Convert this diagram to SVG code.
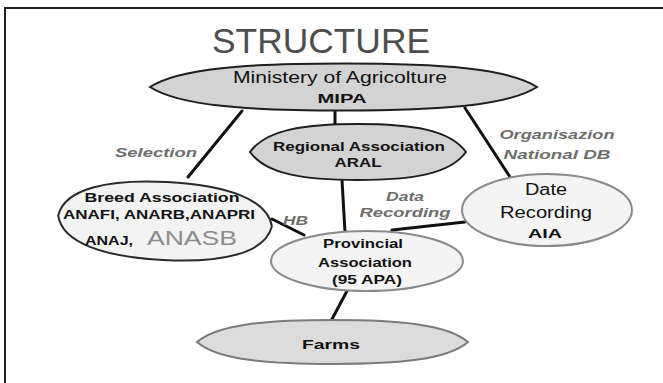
<svg xmlns="http://www.w3.org/2000/svg" width="663" height="383" viewBox="0 0 663 383">
  <style>
    text { font-family: "Liberation Sans", Arial, sans-serif; text-anchor: middle; }
    .frame { stroke: #222; stroke-width: 2; fill: none; }
    .dark { fill: #d3d3d3; stroke: #1e1e1e; stroke-width: 2; }
    .soft { fill: #dcdcdc; stroke: #7a7a7a; stroke-width: 2; }
    .light { fill: #f3f3f3; stroke: #2a2a2a; stroke-width: 2; }
    .pale { fill: #f4f4f4; stroke: #8a8a8a; stroke-width: 2; }
    .edge { stroke: #111; stroke-width: 3; fill: none; stroke-linecap: round; }
    .t { fill: #111; font-size: 16px; }
    .b { fill: #111; font-weight: bold; font-size: 13px; }
    .lbl { fill: #6e6e6e; font-weight: bold; font-style: italic; font-size: 13px; }
  </style>

  <rect width="663" height="383" fill="#ffffff"/>
  <!-- page frame: top and left rules only -->
  <path class="frame" d="M4,8 H663 M5,8 V383"/>

  <text x="321" y="53" font-size="35" fill="#4d4d4d" textLength="218" lengthAdjust="spacingAndGlyphs">STRUCTURE</text>

  <g id="connectors">
    <line class="edge" x1="242" y1="111" x2="188" y2="177"/>
    <line class="edge" x1="335" y1="111" x2="335" y2="125"/>
    <line class="edge" x1="465" y1="108" x2="510" y2="177"/>
    <line class="edge" x1="342" y1="180" x2="345" y2="232"/>
    <line class="edge" x1="272" y1="219" x2="304" y2="235"/>
    <line class="edge" x1="392" y1="230" x2="465" y2="222"/>
    <line class="edge" x1="347" y1="291" x2="331" y2="321"/>
    <text class="lbl" x="156" y="157" textLength="82" lengthAdjust="spacingAndGlyphs">Selection</text>
    <text class="lbl" x="295.5" y="225" textLength="25" lengthAdjust="spacingAndGlyphs">HB</text>
    <text class="lbl" x="557" y="139" font-size="14" textLength="115" lengthAdjust="spacingAndGlyphs">Organisazion</text>
    <text class="lbl" x="557" y="159" font-size="14" textLength="107" lengthAdjust="spacingAndGlyphs">National DB</text>
    <text class="lbl" x="405" y="201" textLength="38" lengthAdjust="spacingAndGlyphs">Data</text>
    <text class="lbl" x="405" y="217" textLength="91" lengthAdjust="spacingAndGlyphs">Recording</text>
  </g>

  <g id="ministry">
    <path class="dark" d="M150,87 C179,68.2 246.75,63.5 343.5,63.5 C440.25,63.5 508,68.2 537,87 C508,105.8 440.25,110.5 343.5,110.5 C246.75,110.5 179,105.8 150,87 Z"/>
    <text class="t" x="340" y="83" textLength="214" lengthAdjust="spacingAndGlyphs">Ministery of  Agricolture</text>
    <text class="b" x="342" y="103" font-size="14" textLength="49" lengthAdjust="spacingAndGlyphs">MIPA</text>
  </g>

  <g id="regional">
    <path class="dark" d="M250,152 C266.2,129.6 304,124 358,124 C412,124 449.8,129.6 466,152 C449.8,174.4 412,180 358,180 C304,180 266.2,174.4 250,152 Z"/>
    <text class="b" x="359" y="151" font-size="14" textLength="172" lengthAdjust="spacingAndGlyphs">Regional  Association</text>
    <text class="b" x="358" y="167" font-size="14" textLength="47" lengthAdjust="spacingAndGlyphs">ARAL</text>
  </g>

  <g id="breed">
    <path class="light" transform="rotate(3 165 221)" d="M58,221 C63.35,193.7 106.15,182 165,182 C223.85,182 266.65,193.7 272,221 C266.65,248.3 223.85,260 165,260 C106.15,260 63.35,248.3 58,221 Z"/>
    <text class="b" x="162" y="202" textLength="155" lengthAdjust="spacingAndGlyphs">Breed  Association</text>
    <text class="b" x="159" y="219" textLength="192" lengthAdjust="spacingAndGlyphs">ANAFI, ANARB,ANAPRI</text>
    <text class="b" x="109" y="245" textLength="48" lengthAdjust="spacingAndGlyphs">ANAJ,</text>
    <text x="192" y="245" font-size="21" fill="#8c8c8c" textLength="90" lengthAdjust="spacingAndGlyphs">ANASB</text>
  </g>

  <g id="aia">
    <ellipse class="pale" cx="547" cy="210" rx="85" ry="36"/>
    <text class="t" x="546" y="195" font-size="17" textLength="42" lengthAdjust="spacingAndGlyphs">Date</text>
    <text class="t" x="546" y="218" font-size="17" textLength="92" lengthAdjust="spacingAndGlyphs">Recording</text>
    <text class="b" x="545" y="238" font-size="17" textLength="34" lengthAdjust="spacingAndGlyphs">AIA</text>
  </g>

  <g id="provincial">
    <ellipse class="pale" cx="367" cy="261" rx="96" ry="30"/>
    <text class="b" x="363" y="248" textLength="80" lengthAdjust="spacingAndGlyphs">Provincial</text>
    <text class="b" x="365" y="267" textLength="94" lengthAdjust="spacingAndGlyphs">Association</text>
    <text class="b" x="367" y="284" textLength="70" lengthAdjust="spacingAndGlyphs">(95 APA)</text>
  </g>

  <g id="farms">
    <path class="soft" d="M197,342 C217.3,324.4 264.75,320 332.5,320 C400.25,320 447.7,324.4 468,342 C447.7,359.6 400.25,364 332.5,364 C264.75,364 217.3,359.6 197,342 Z"/>
    <text class="b" x="331" y="349" font-size="16" textLength="58" lengthAdjust="spacingAndGlyphs">Farms</text>
  </g>
</svg>
